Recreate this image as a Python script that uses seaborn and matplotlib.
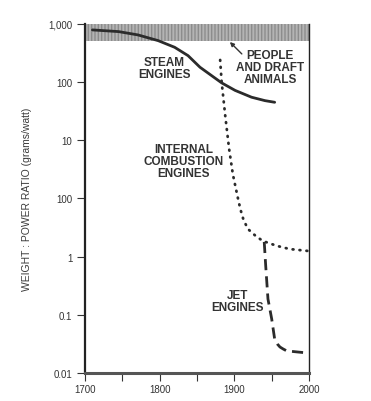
import numpy as np
import pandas as pd
import matplotlib
matplotlib.use("Agg")
import matplotlib.pyplot as plt
import seaborn as sns

# Data (axis units of the original figure's log scale)
steam_year = [1710, 1745, 1771, 1798, 1820, 1838, 1854, 1870, 1883, 1901, 1923, 1941, 1954]
steam_ratio = [789, 738, 647, 516, 397, 285, 180, 128, 97, 72, 55, 48, 45]

ic_year = [1881, 1883, 1888, 1893, 1898, 1905, 1908, 1912, 1918, 1928, 1938, 1957, 1974, 1999]
ic_ratio = [240, 100, 25, 7.1, 2.6, 0.98, 0.66, 0.44, 0.30, 0.23, 0.186, 0.153, 0.135, 0.125]

jet_year = [1940, 1942, 1945, 1950, 1954, 1958, 1961, 1965, 1970, 1984, 1999]
jet_ratio = [0.179, 0.069, 0.0187, 0.0085, 0.0038, 0.0031, 0.0028, 0.0026, 0.0024, 0.0023, 0.0022]

ytick_vals = [1e3, 1e2, 1e1, 1e0, 1e-1, 1e-2, 1e-3]
ytick_labels = ["1,000", "100", "10", "100", "1", "0.1", "0.01"]
xtick_major = [1700, 1800, 1900, 2000]
xtick_minor = [1750, 1850, 1950]

sns.set_style("white")
plt.rcParams['font.family'] = ['Liberation Sans', 'DejaVu Sans']

fig = plt.figure(figsize=(3.71, 4.02), dpi=100)
ax = fig.add_axes([0.229, 0.0697, 0.604, 0.8683])
ax.set_yscale('log')
ax.set_xlim(1700, 2000)
ax.set_ylim(1e-3, 1e3)

# shaded band: people and draft animals
ax.axhspan(500, 1000, facecolor='#b4b4b4', edgecolor='#8c8c8c', hatch='|||||', linewidth=0, zorder=1)

ink = '#2b2b2b'
steam = pd.DataFrame({'year': steam_year, 'ratio': steam_ratio})
ic = pd.DataFrame({'year': ic_year, 'ratio': ic_ratio})
jet = pd.DataFrame({'year': jet_year, 'ratio': jet_ratio})

sns.lineplot(data=steam, x='year', y='ratio', ax=ax, color=ink, lw=2.0, zorder=3,
             solid_joinstyle='round')
sns.lineplot(data=ic, x='year', y='ratio', ax=ax, color=ink, lw=2.0,
             linestyle=(0, (0.3, 2.2)), dash_capstyle='round', zorder=3)
sns.lineplot(data=jet, x='year', y='ratio', ax=ax, color=ink, lw=2.0,
             linestyle=(0, (4, 2.2)), zorder=3)

ax.set_yticks(ytick_vals)
ax.set_yticklabels(ytick_labels)
ax.yaxis.set_minor_locator(matplotlib.ticker.NullLocator())
ax.set_xticks(xtick_major)
ax.set_xticklabels([str(v) for v in xtick_major])
ax.set_xticks(xtick_minor, minor=True)

ax.tick_params(axis='y', which='major', direction='out', length=6, width=0.8,
               color='#333333', labelsize=7, labelcolor='#333333', pad=3, left=True)
ax.tick_params(axis='x', which='both', direction='out', length=6, width=0.8,
               color='#333333', labelsize=7, labelcolor='#333333', pad=2, bottom=True)

ax.set_xlabel('')
ax.set_ylabel('WEIGHT : POWER RATIO (grams/watt)', fontsize=7.5, color='#3a3a3a', labelpad=12)

ax.spines['top'].set_visible(False)
ax.spines['left'].set_linewidth(1.6)
ax.spines['left'].set_color('#222222')
ax.spines['right'].set_linewidth(1.0)
ax.spines['right'].set_color('#222222')
ax.spines['bottom'].set_linewidth(2.2)
ax.spines['bottom'].set_color('#555555')

tkw = dict(fontsize=8.5, fontweight='bold', color='#333333', ha='center', va='center',
           linespacing=0.95)
ax.text(1806, 175, 'STEAM\nENGINES', **tkw)
ax.text(1948, 182, 'PEOPLE\nAND DRAFT\nANIMALS', **tkw)
ax.text(1832, 4.4, 'INTERNAL\nCOMBUSTION\nENGINES', **tkw)
ax.text(1904, 0.0173, 'JET\nENGINES', **tkw)
ax.annotate('', xy=(1894, 489), xytext=(1910, 305),
            arrowprops=dict(arrowstyle='-|>', color='#333333', lw=1.0, mutation_scale=6,
                            shrinkA=0, shrinkB=0))

fig.savefig('out.png', dpi=100)
